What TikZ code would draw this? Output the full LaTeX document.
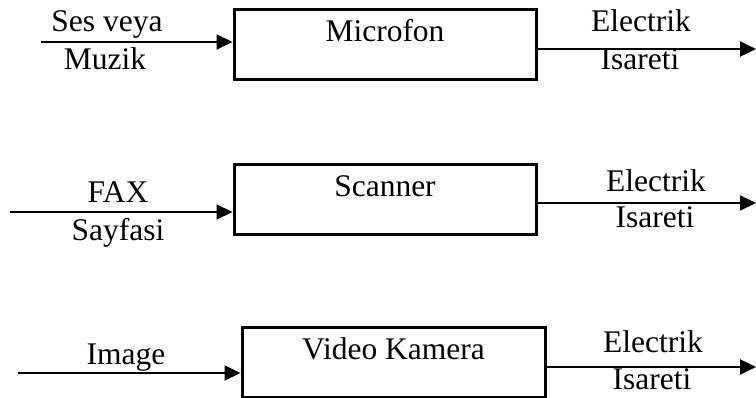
\documentclass[tikz,border=0pt]{standalone}
\usepackage{fontspec}
\setmainfont{Liberation Serif}
\usetikzlibrary{arrows.meta}
\tikzset{
  blockbox/.style={draw, line width=3pt, inner sep=0pt, minimum width=302pt, text height=32pt, text depth=38pt, font=\fontsize{31.5}{36}\selectfont},
  lbl/.style={anchor=base, inner sep=0pt, font=\fontsize{31.5}{36}\selectfont},
  sig/.style={line width=2.2pt, -{Triangle[length=16pt,width=15pt]}}
}
\begin{document}
\begin{tikzpicture}[x=1pt,y=-1pt]
\useasboundingbox (0,0) rectangle (756,398);
% row 1
\node[blockbox] (mic) at (385,45) {Microfon};
\coordinate (i1) at (41,42);
\coordinate (o1) at (756,49);
\draw[sig] (i1) -- (i1 -| mic.west);
\draw[sig] (mic.east |- o1) -- (o1);
\node[lbl] (t1a) at (107,32) {Ses veya};
\node[lbl] (t1b) at (105,70) {Muzik};
\node[lbl] (t1c) at (641,32) {Electrik};
\node[lbl] (t1d) at (640,70) {Isareti};
% row 2
\node[blockbox] (scan) at (385,200) {Scanner};
\coordinate (i2) at (10,212);
\coordinate (o2) at (756,203);
\draw[sig] (i2) -- (i2 -| scan.west);
\draw[sig] (scan.east |- o2) -- (o2);
\node[lbl] (t2a) at (118,203) {FAX};
\node[lbl] (t2b) at (118,241) {Sayfasi};
\node[lbl] (t2c) at (656,192) {Electrik};
\node[lbl] (t2d) at (655,228) {Isareti};
% row 3
\node[blockbox, minimum width=303pt] (cam) at (393.5,362.5) {Video Kamera};
\coordinate (i3) at (18,373);
\coordinate (o3) at (756,367);
\draw[sig] (i3) -- (i3 -| cam.west);
\draw[sig] (cam.east |- o3) -- (o3);
\node[lbl] (t3a) at (126,365) {Image};
\node[lbl] (t3c) at (653,353) {Electrik};
\node[lbl] (t3d) at (652,390) {Isareti};
\end{tikzpicture}
\end{document}
